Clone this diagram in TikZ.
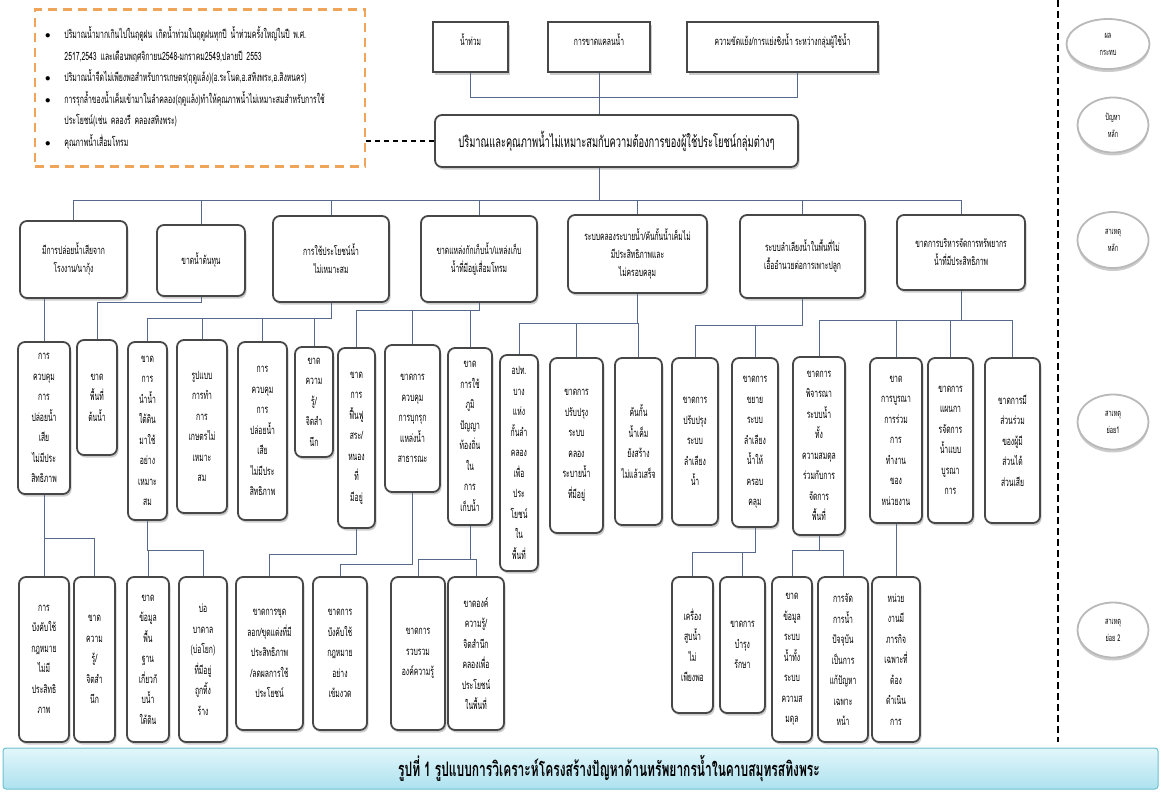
\documentclass[tikz,border=0pt]{standalone}
\usepackage{fontspec}
\newfontfamily\thai[Script=Thai,FakeStretch=0.6]{Loma}
\usepackage{tikz}
\usetikzlibrary{positioning,shadows,shapes.geometric,calc}

\definecolor{linkc}{HTML}{56698A}
\definecolor{notec}{HTML}{F0A45A}
\definecolor{bartop}{HTML}{E2F6FB}
\definecolor{barbot}{HTML}{ADE2EF}
\definecolor{barline}{HTML}{6CC0CE}

\tikzset{
  link/.style={draw=linkc, line width=0.9pt},
  sqbox/.style={draw=black!72, line width=1.5pt, fill=white, align=center, inner sep=2pt,
    drop shadow={shadow xshift=1.5pt, shadow yshift=-2.5pt, opacity=.4},
    font=\thai\fontsize{11.2}{18}\selectfont},
  rbox/.style={sqbox, rounded corners=7pt, line width=1.8pt},
  cbox/.style={rbox, font=\thai\fontsize{11.3}{20.5}\selectfont},
  notebox/.style={draw=notec, line width=2.2pt, dash pattern=on 9pt off 6pt,
    text width=310pt, inner xsep=10pt, align=left,
    font=\thai\fontsize{11.4}{21.5}\selectfont},
  lab/.style={ellipse, draw=gray!55, line width=1.8pt, fill=white, align=center, inner sep=1pt,
    drop shadow={shadow xshift=0pt, shadow yshift=-3pt, opacity=.4},
    font=\thai\fontsize{9.3}{17}\selectfont}
}

\begin{document}
\begin{tikzpicture}[x=1pt,y=-1pt]
    \useasboundingbox (0,0) rectangle (1161,793);

    % Notes box
    \node[notebox, minimum height=157] (notes) at (200,88) {%
      \begin{tabular}{@{}l@{\hspace{14pt}}l@{}}
        $\bullet$ & ปริมาณน้ำมากเกินไปในฤดูฝน เกิดน้ำท่วมในฤดูฝนทุกปี น้ำท่วมครั้งใหญ่ในปี พ.ศ. \\
                  & 2517,2543 และเดือนพฤศจิกายน2548-มกราคม2549,ปลายปี 2553 \\
        $\bullet$ & ปริมาณน้ำจืดไม่เพียงพอสำหรับการเกษตร(ฤดูแล้ง)(อ.ระโนด,อ.สทิงพระ,อ.สิงหนคร) \\
        $\bullet$ & การรุกล้ำของน้ำเค็มเข้ามาในลำคลอง(ฤดูแล้ง)ทำให้คุณภาพน้ำไม่เหมาะสมสำหรับการใช้ \\
                  & ประโยชน์(เช่น คลองรี คลองสทิงพระ) \\
        $\bullet$ & คุณภาพน้ำเสื่อมโทรม
      \end{tabular}};

    % Effects and main problem
    \node[sqbox, text depth=14pt, minimum width=75, minimum height=50] (e1) at (470.5,47) {น้ำท่วม};
    \node[sqbox, text depth=14pt, minimum width=102, minimum height=50] (e2) at (599,47) {การขาดแคลนน้ำ};
    \node[sqbox, text depth=14pt, minimum width=191, minimum height=50] (e3) at (782.5,47) {ความขัดแย้ง/การแย่งชิงน้ำ ระหว่างกลุ่มผู้ใช้น้ำ};
    \node[rbox, minimum width=363, minimum height=52, font=\thai\fontsize{15.5}{18}\selectfont] (prob) at (616.5,141)
      {ปริมาณและคุณภาพน้ำไม่เหมาะสมกับความต้องการของผู้ใช้ประโยชน์กลุ่มต่างๆ};

    \draw[link] (e1.south) -- ++(0,25) -| ([xshift=15pt]e3.south);
    \draw[link] (e2.south) -- (e2.south |- prob.north);
    \draw[line width=1.5pt, dash pattern=on 5pt off 4pt] (notes.east |- prob.west) -- (prob.west);

    % Main causes
    \foreach \n/\x/\y/\w/\h/\txt in {
      m1/73.5/259.5/107/77/{มีการปล่อยน้ำเสียจาก\\โรงงาน/นากุ้ง},
      m2/201/260.5/88/71/{ขาดน้ำต้นทุน},
      m3/331/259/116/86/{การใช้ประโยชน์น้ำ\\ไม่เหมาะสม},
      m4/479/259/116/86/{ขาดแหล่งกักเก็บน้ำ/แหล่งเก็บ\\น้ำที่มีอยู่เสื่อมโทรม},
      m5/637.5/254/139/78/{ระบบคลองระบายน้ำ/คันกั้นน้ำเค็มไม่\\มีประสิทธิภาพและ\\ไม่ครอบคลุม},
      m6/802.5/256.5/125/83/{ระบบลำเลียงน้ำในพื้นที่ไม่\\เอื้ออำนวยต่อการเพาะปลูก},
      m7/961/252.5/128/75/{ขาดการบริหารจัดการทรัพยากร\\น้ำที่มีประสิทธิภาพ}} {
      \node[rbox, minimum width=\w, minimum height=\h] (\n) at (\x,\y) {\txt};
    }

    \draw[link] (e2.south |- prob.south) -- ++(0,33) coordinate (hub);
    \foreach \n in {m1,m2,m3,m4,m5,m6,m7}
      \draw[link] (hub) -| (\n.north);

    % Sub causes, level 1
    \foreach \n/\x/\y/\w/\h/\txt in {
      c1/44/418/52/152/{การ\\ควบคุม\\การ\\ปล่อยน้ำ\\เสีย\\ไม่มีประ\\สิทธิภาพ},
      c2/97/397.5/40/115/{ขาด\\พื้นที่\\ต้นน้ำ},
      c3/147.5/431/39/178/{ขาด\\การ\\นำน้ำ\\ใต้ดิน\\มาใช้\\อย่าง\\เหมาะ\\สม},
      c4/202/426.5/50/173/{รูปแบบ\\การทำ\\การ\\เกษตรไม่\\เหมาะ\\สม},
      c5/262.5/431/49/178/{การ\\ควบคุม\\การ\\ปล่อยน้ำ\\เสีย\\ไม่มีประ\\สิทธิภาพ},
      c6/314/402/38/110/{ขาด\\ความ\\รู้/\\จิตสำ\\นึก},
      c7/356.5/438/37/180/{ขาด\\การ\\ฟื้นฟู\\สระ/\\หนอง\\ที่\\มีอยู่},
      c8/412.5/418.5/55/147/{ขาดการ\\ควบคุม\\การบุกรุก\\แหล่งน้ำ\\สาธารณะ},
      c9/470/436.5/44/177/{ขาด\\การใช้\\ภูมิ\\ปัญญา\\ท้องถิ่น\\ใน\\การ\\เก็บน้ำ},
      c10/519/463/38/216/{อปท.\\บาง\\แห่ง\\กั้นลำ\\คลอง\\เพื่อ\\ประ\\โยชน์\\ใน\\พื้นที่},
      c11/576.5/445.5/53/175/{ขาดการ\\ปรับปรุง\\ระบบ\\คลอง\\ระบายน้ำ\\ที่มีอยู่},
      c12/638.5/441.5/47/167/{คันกั้น\\น้ำเค็ม\\ยังสร้าง\\ไม่แล้วเสร็จ},
      c13/695/441.5/46/167/{ขาดการ\\ปรับปรุง\\ระบบ\\ลำเลียง\\น้ำ},
      c14/755/442.5/46/169/{ขาดการ\\ขยาย\\ระบบ\\ลำเลียง\\น้ำให้\\ครอบ\\คลุม},
      c15/819/446/52/178/{ขาดการ\\พิจารณา\\ระบบน้ำ\\ทั้ง\\ความสมดุล\\ร่วมกับการ\\จัดการ\\พื้นที่},
      c16/896/440.5/52/165/{ขาด\\การบูรณา\\การร่วม\\การ\\ทำงาน\\ของ\\หน่วยงาน},
      c17/950.5/440.5/45/165/{ขาดการ\\แผนกา\\รจัดการ\\น้ำแบบ\\บูรณา\\การ},
      c18/1012.5/440.5/55/165/{ขาดการมี\\ส่วนร่วม\\ของผู้มี\\ส่วนได้\\ส่วนเสีย}} {
      \node[cbox, minimum width=\w, minimum height=\h] (\n) at (\x,\y) {\txt};
    }

    \draw[link] (c1.north |- m1.south) -- (c1.north);
    \draw[link] (m2.south) -- ++(0,6) -| (c2.north);
    \draw[link] (m3.south) -- ++(0,16) coordinate (j3);
    \foreach \c in {c3,c4,c5,c6} \draw[link] (j3) -| (\c.north);
    \draw[link] (m4.south) -- ++(0,8) coordinate (j4);
    \foreach \c in {c7,c8,c9} \draw[link] (j4) -| (\c.north);
    \draw[link] (m5.south) -- ++(0,30) coordinate (j5);
    \foreach \c in {c10,c11,c12} \draw[link] (j5) -| (\c.north);
    \draw[link] (m6.south) -- ++(0,27) coordinate (j6);
    \foreach \c in {c13,c14} \draw[link] (j6) -| (\c.north);
    \draw[link] (m7.south) -- ++(0,30) coordinate (j7);
    \foreach \c in {c15,c16,c17,c18} \draw[link] (j7) -| (\c.north);

    % Sub causes, level 2
    \foreach \n/\x/\y/\w/\h/\txt in {
      s1/44/659.5/50/165/{การ\\บังคับใช้\\กฎหมาย\\ไม่มี\\ประสิทธิ\\ภาพ},
      s2/94.5/659.5/41/165/{ขาด\\ความ\\รู้/\\จิตสำ\\นึก},
      s3/148/659.5/42/165/{ขาด\\ข้อมูล\\พื้น\\ฐาน\\เกี่ยวกั\\บน้ำ\\ใต้ดิน},
      s4/203/659.5/48/165/{บ่อ\\บาดาล\\(บ่อโยก)\\ที่มีอยู่\\ถูกทิ้ง\\ร้าง},
      s5/269.5/653.5/67/153/{ขาดการขุด\\ลอก/ขุดแต่งที่มี\\ประสิทธิภาพ\\/ลดผลการใช้\\ประโยชน์},
      s6/340/653.5/54/153/{ขาดการ\\บังคับใช้\\กฎหมาย\\อย่าง\\เข้มงวด},
      s7/418/653.5/54/153/{ขาดการ\\รวบรวม\\องค์ความรู้},
      s8/476/653.5/56/153/{ขาดองค์\\ความรู้/\\จิตสำนึก\\คลองเพื่อ\\ประโยชน์\\ในพื้นที่},
      s9/692.5/645/41/136/{เครื่อง\\สูบน้ำ\\ไม่\\เพียงพอ},
      s10/742.5/645/45/136/{ขาดการ\\บำรุง\\รักษา},
      s11/792/659.5/40/165/{ขาด\\ข้อมูล\\ระบบ\\น้ำทั้ง\\ระบบ\\ความส\\มดุล},
      s12/843/659.5/50/165/{การจัด\\การน้ำ\\ปัจจุบัน\\เป็นการ\\แก้ปัญหา\\เฉพาะ\\หน้า},
      s13/896/659.5/48/165/{หน่วย\\งานมี\\ภารกิจ\\เฉพาะที่\\ต้อง\\ดำเนิน\\การ}} {
      \node[cbox, minimum width=\w, minimum height=\h] (\n) at (\x,\y) {\txt};
    }

    \draw[link] (c1.south) -- ++(0,44) coordinate (k1);
    \foreach \s in {s1,s2} \draw[link] (k1) -| (\s.north);
    \draw[link] (c3.south) -- ++(0,30) coordinate (k3);
    \foreach \s in {s3,s4} \draw[link] (k3) -| (\s.north);
    \draw[link] (c7.south) -- ++(0,26) -| (s5.north);
    \draw[link] (c8.south) -- ++(0,72) -| (s6.north);
    \draw[link] (c9.south) -- ++(0,34) coordinate (k9);
    \foreach \s in {s7,s8} \draw[link] (k9) -| (\s.north);
    \draw[link] (c14.south) -- ++(0,25) coordinate (k14);
    \foreach \s in {s9,s10} \draw[link] (k14) -| (\s.north);
    \draw[link] (c15.south) -- ++(0,15) coordinate (k15);
    \foreach \s in {s11,s12} \draw[link] (k15) -| (\s.north);
    \draw[link] (c16.south) -- (s13.north);

    % Level labels
    \draw[line width=1.3pt, dash pattern=on 7pt off 4pt] (1058,0) -- (1058,742);
    \foreach \n/\x/\y/\w/\h/\txt in {
      lab1/1108/44/83/50/{ผล\\กระทบ},
      lab2/1113/125/71/55/{ปัญหา\\หลัก},
      lab3/1113/240/71/56/{สาเหตุ\\หลัก},
      lab4/1113/422/71/55/{สาเหตุ\\ย่อย1},
      lab5/1113/630/71/55/{สาเหตุ\\ย่อย 2}} {
      \node[lab, minimum width=\w, minimum height=\h] (\n) at (\x,\y) {\txt};
    }

    % Caption bar
    \shade[top color=bartop, bottom color=barbot, draw=barline, line width=1pt, rounded corners=3pt]
      (3,748) rectangle (1158,789);
    \node[font=\thai\bfseries\fontsize{20}{22}\selectfont] (caption) at (609,768.5)
      {รูปที่ 1 รูปแบบการวิเคราะห์โครงสร้างปัญหาด้านทรัพยากรน้ำในคาบสมุทรสทิงพระ};
\end{tikzpicture}
\end{document}
